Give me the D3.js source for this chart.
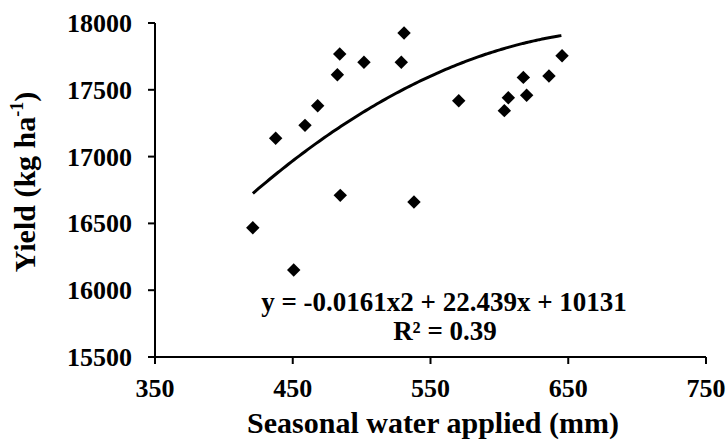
<!DOCTYPE html>
<html>
<head>
<meta charset="utf-8">
<script src="https://cdn.jsdelivr.net/npm/d3@7/dist/d3.min.js"></script>
<style>
body { margin: 0; background: #fff; }
#chart text { font-family: "Liberation Serif", "Times New Roman", serif; font-weight: bold; fill: #000; }
</style>
</head>
<body>
<svg id="chart"></svg>
<script>
var W = 727;
var H = 441;

// water applied (mm) and yield (kg/ha)
var water = [421, 437.6, 450.7, 458.9, 468.1, 482.4, 484.1, 484.5, 501.7, 528.8, 530.8, 538, 570.5, 603.6, 606.5, 617.4, 619.8, 636, 645.5];
var yieldKg = [16468, 17137, 16151, 17234, 17381, 17613, 17768, 16710, 17706, 17706, 17925, 16660, 17418, 17344, 17441, 17593, 17459, 17603, 17755];

// fitted polynomial shown on the chart: y = a*x^2 + b*x + c
var fitCoef = [-0.0161, 22.439, 10131];
var fitRange = [421, 645];

var xTicks = [350, 450, 550, 650, 750];
var yTicks = [15500, 16000, 16500, 17000, 17500, 18000];

var plotL = 155, plotR = 706, plotT = 23, plotB = 357;
var tickLen = 7;

var svg = d3.select('#chart')
	.attr('width', W)
	.attr('height', H);

var xs = d3.scaleLinear().domain([350, 750]).range([plotL, plotR]);
var ys = d3.scaleLinear().domain([15500, 18000]).range([plotB, plotT]);

// trend line
var a = fitCoef[0], b = fitCoef[1], c = fitCoef[2];
var fx = d3.range(fitRange[0], fitRange[1] + 0.1, 2);
var trend = d3.line()
	.x(function(d) { return xs(d); })
	.y(function(d) { return ys(a * d * d + b * d + c); })
	.curve(d3.curveBasis);
svg.append('path')
	.datum(fx)
	.attr('d', trend)
	.attr('fill', 'none')
	.attr('stroke', '#000')
	.attr('stroke-width', 3);

// points
var diamond = d3.symbol().type(d3.symbolSquare).size(90);
svg.append('g')
	.selectAll('path')
	.data(water)
	.enter()
	.append('path')
	.attr('d', diamond)
	.attr('fill', '#000')
	.attr('transform', function(d, i) { return 'translate(' + xs(d) + ',' + ys(yieldKg[i]) + ') rotate(45)'; });

// axes, built by hand from the scales
var axes = svg.append('g').attr('class', 'axes');
axes.append('path')
	.attr('d', 'M' + plotL + ',' + plotT + 'V' + plotB + 'H' + plotR)
	.attr('fill', 'none')
	.attr('stroke', '#000')
	.attr('stroke-width', 2);
axes.selectAll('path.xt')
	.data(xTicks)
	.enter()
	.append('path')
	.attr('class', 'xt')
	.attr('d', function(d) { return 'M' + xs(d) + ',' + plotB + 'v' + tickLen; })
	.attr('stroke', '#000')
	.attr('stroke-width', 2);
axes.selectAll('path.yt')
	.data(yTicks)
	.enter()
	.append('path')
	.attr('class', 'yt')
	.attr('d', function(d) { return 'M' + plotL + ',' + ys(d) + 'h' + (-tickLen); })
	.attr('stroke', '#000')
	.attr('stroke-width', 2);
axes.selectAll('text.xl')
	.data(xTicks)
	.enter()
	.append('text')
	.attr('class', 'xl')
	.attr('x', function(d) { return xs(d); })
	.attr('y', plotB + 40)
	.attr('text-anchor', 'middle')
	.attr('font-size', 26)
	.text(function(d) { return d; });
axes.selectAll('text.yl')
	.data(yTicks)
	.enter()
	.append('text')
	.attr('class', 'yl')
	.attr('x', plotL - 23)
	.attr('y', function(d) { return ys(d) + 9; })
	.attr('text-anchor', 'end')
	.attr('font-size', 26)
	.text(function(d) { return d; });

// equation label
svg.append('text')
	.attr('x', 444)
	.attr('y', 311)
	.attr('text-anchor', 'middle')
	.attr('font-size', 27)
	.text('y = -0.0161x2 + 22.439x + 10131');
svg.append('text')
	.attr('x', 445)
	.attr('y', 340)
	.attr('text-anchor', 'middle')
	.attr('font-size', 27)
	.text('R² = 0.39');

// axis titles
svg.append('text')
	.attr('x', 433)
	.attr('y', 433)
	.attr('text-anchor', 'middle')
	.attr('font-size', 30)
	.text('Seasonal water applied (mm)');

var ytitle = svg.append('text')
	.attr('transform', 'translate(35,182) rotate(-90)')
	.attr('text-anchor', 'middle')
	.attr('font-size', 30);
ytitle.append('tspan').text('Yield (kg ha');
ytitle.append('tspan').attr('font-size', 18).attr('dy', -12).text('-1');
ytitle.append('tspan').attr('dy', 12).text(')');
</script>
</body>
</html>
